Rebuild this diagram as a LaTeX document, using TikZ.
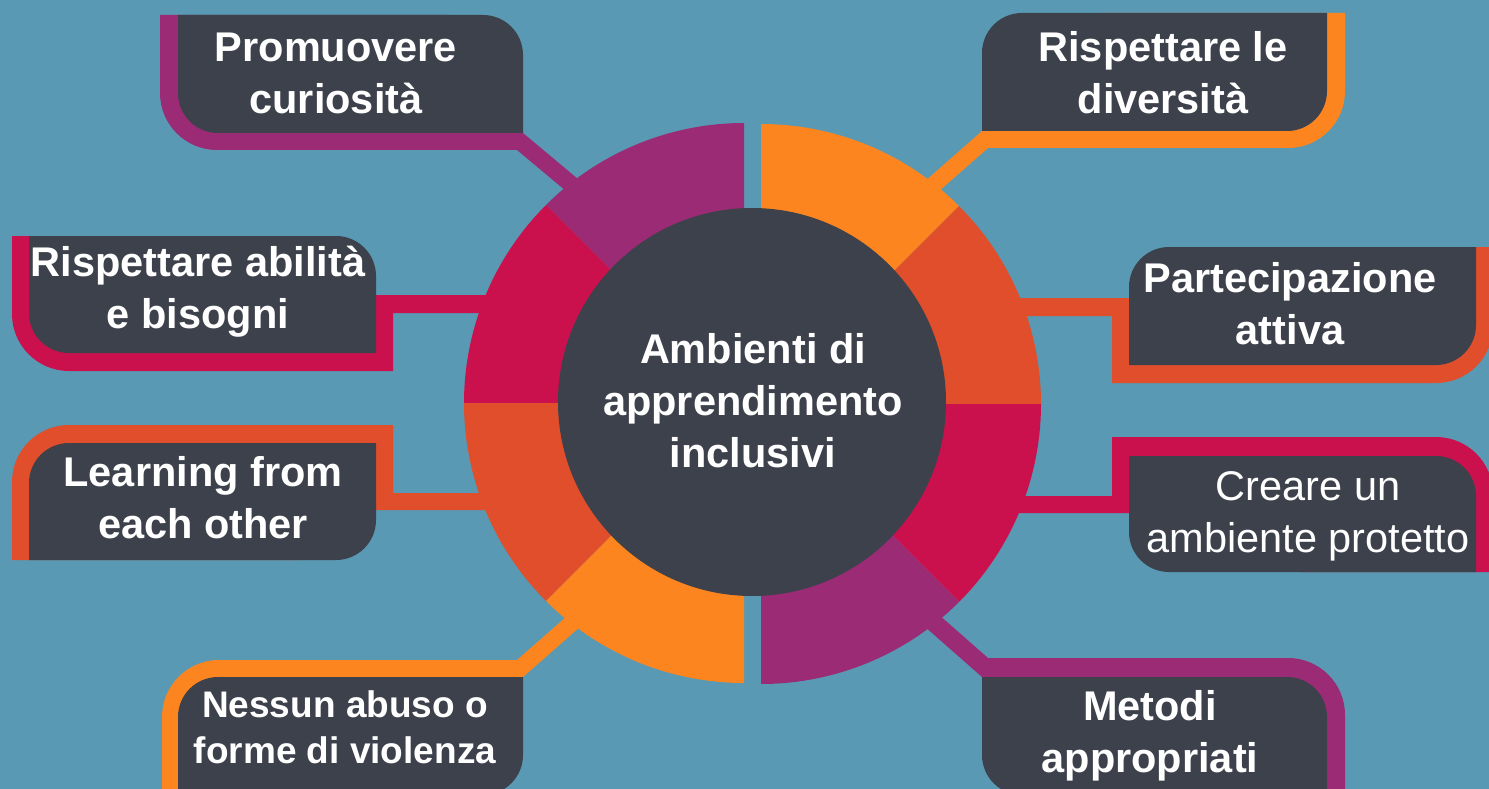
\documentclass[tikz,border=0pt]{standalone}
\usepackage{fontspec}
\setmainfont{Liberation Sans}
\definecolor{bgTeal}{RGB}{89,153,179}
\definecolor{boxDark}{RGB}{61,65,75}
\definecolor{segPurple}{RGB}{155,43,117}
\definecolor{segCrimson}{RGB}{203,17,77}
\definecolor{segRust}{RGB}{224,78,43}
\definecolor{segOrange}{RGB}{253,133,32}
\tikzstyle{canvas} = [x = 1pt, y = -1pt]
\tikzstyle{labelText} = [text=white, align=center, inner sep=0pt, font=\fontsize{41.5}{52}\selectfont\bfseries]
\tikzstyle{smallLabelText} = [labelText, font=\fontsize{37}{46}\selectfont\bfseries]
\tikzstyle{plainLabelText} = [labelText, font=\fontsize{41.5}{52}\selectfont]
\newcommand{\rad}{40}
\newcommand{\bigRad}{57}
\newcommand{\ringRad}{280}
% dark label box, rounded top right and bottom left
\newcommand{\darkBoxA}[4]{\fill [boxDark] (#1,#2) -- (#3-\rad,#2) arc [start angle=90, end angle=0, radius=\rad pt] -- (#3,#4) -- (#1+\rad,#4) arc [start angle=270, end angle=180, radius=\rad pt] -- cycle;}
% dark label box, rounded top left and bottom right
\newcommand{\darkBoxB}[4]{\fill [boxDark] (#1,#2+\rad) arc [start angle=180, end angle=90, radius=\rad pt] -- (#3,#2) -- (#3,#4-\rad) arc [start angle=0, end angle=-90, radius=\rad pt] -- (#1,#4) -- cycle;}
\newcommand{\ringPiece}[4]{\fill [#1] (#2) -- +(#3:\ringRad pt) arc [start angle=#3, end angle=#4, radius=\ringRad pt] -- cycle;}

\begin{document}
\begin{tikzpicture}[canvas]
  \fill [bgTeal] (0,0) rectangle (1489,789);
  \useasboundingbox (0,0) rectangle (1489,789);
  \coordinate (hubLeft) at (744,403);
  \coordinate (hubRight) at (761,404);
  \coordinate (hub) at (752,402);

  % coloured backings with their bars
  \fill [segPurple] (160,15) -- (450,15) -- (450,133) -- (523,133) -- (609,205) -- (603,222) -- (517,150) -- (160+\bigRad,150) arc [start angle=270, end angle=180, radius=\bigRad pt] -- cycle;
  \fill [segOrange] (1100,13) -- (1345,13) -- (1345,148-\bigRad) arc [start angle=0, end angle=-90, radius=\bigRad pt] -- (988,148) -- (905,221) -- (899,204) -- (982,131) -- (1100,131) -- cycle;
  \fill [segCrimson] (12,236) -- (300,236) -- (300,295) -- (520,295) -- (520,313) -- (393,313) -- (393,371) -- (12+\bigRad,371) arc [start angle=270, end angle=180, radius=\bigRad pt] -- cycle;
  \fill [segRust] (12,560) -- (12,425+\bigRad) arc [start angle=180, end angle=90, radius=\bigRad pt] -- (393,425) -- (393,493) -- (520,493) -- (520,510) -- (300,510) -- (300,560) -- cycle;
  \fill [segRust] (1300,247) -- (1493,247) -- (1493,383-\bigRad) arc [start angle=0, end angle=-90, radius=\bigRad pt] -- (1112,383) -- (1112,316) -- (985,316) -- (985,298) -- (1300,298) -- cycle;
  \fill [segCrimson] (1112,437) -- (1493-\bigRad,437) arc [start angle=90, end angle=0, radius=\bigRad pt] -- (1493,572) -- (1300,572) -- (1300,513) -- (985,513) -- (985,496) -- (1112,496) -- cycle;
  \fill [segOrange] (162,800) -- (162,660+\bigRad) arc [start angle=180, end angle=90, radius=\bigRad pt] -- (517,660) -- (600,587) -- (606,604) -- (523,677) -- (400,677) -- (400,800) -- cycle;
  \fill [segPurple] (988,658) -- (1345-\bigRad,658) arc [start angle=90, end angle=0, radius=\bigRad pt] -- (1345,800) -- (1100,800) -- (1100,677) -- (982,677) -- (899,604) -- (905,585) -- cycle;

  % ring
  \foreach \hubName/\from/\to/\col in {hubLeft/90/135/segPurple, hubLeft/135/180/segCrimson, hubLeft/180/225/segRust, hubLeft/225/270/segOrange, hubRight/45/90/segOrange, hubRight/0/45/segRust, hubRight/-45/0/segCrimson, hubRight/-90/-45/segPurple} {
    \ringPiece{\col}{\hubName}{\from}{\to}
  }
  \fill [boxDark] (hub) circle [radius=194pt];

  % label boxes
  \darkBoxA{178}{15}{523}{133}
  \darkBoxB{982}{13}{1327}{131}
  \darkBoxA{29}{236}{376}{353}
  \darkBoxB{29}{443}{376}{560}
  \darkBoxB{1129}{247}{1476}{365}
  \darkBoxA{1129}{456}{1476}{572}
  \darkBoxB{178}{677}{523}{795}
  \darkBoxA{982}{677}{1327}{795}

  \node [labelText] (ambienti) at (753,401) {Ambienti di\\apprendimento\\inclusivi};
  \node [labelText] (promuovere) at (336,73) {Promuovere\\curiosità};
  \node [labelText] (diversita) at (1163,73) {Rispettare le\\diversità};
  \node [labelText] (abilita) at (198,292) {Rispettare abilità\\e bisogni};
  \node [labelText] (learning) at (203,498) {Learning from\\each other};
  \node [labelText] (partecipazione) at (1290,304) {Partecipazione\\attiva};
  \node [plainLabelText] (protetto) at (1308,516) {Creare un\\ambiente protetto};
  \node [smallLabelText] (nessunAbuso) at (345,727) {Nessun abuso o\\forme di violenza};
  \node [labelText] (metodi) at (1150,736) {Metodi\\appropriati};
\end{tikzpicture}
\end{document}
